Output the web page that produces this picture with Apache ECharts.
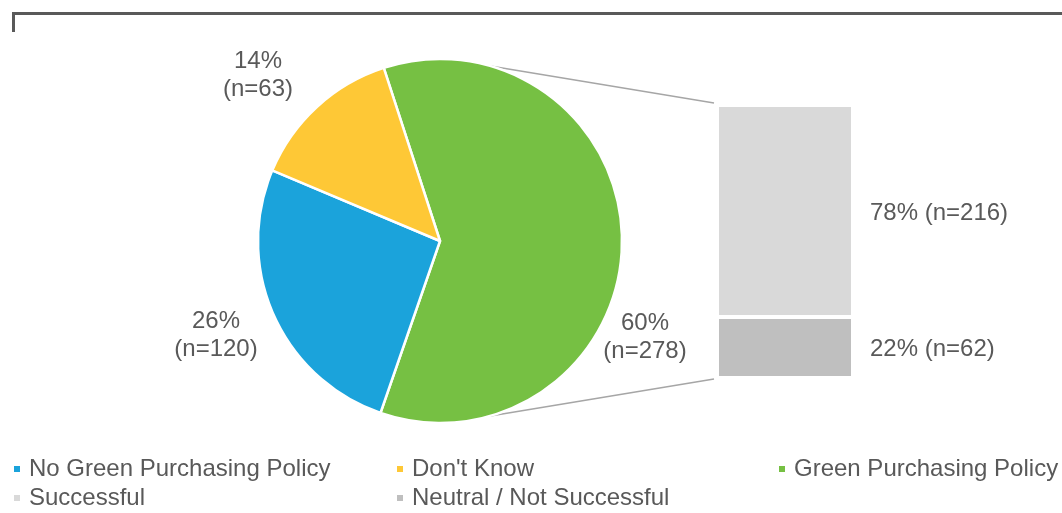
<!DOCTYPE html>
<html>
<head>
<meta charset="utf-8">
<script src="https://cdn.jsdelivr.net/npm/echarts@6/dist/echarts.min.js"></script>
<style>
  html, body { margin: 0; padding: 0; background: #fff; }
  #chart { width: 1062px; height: 513px; }
</style>
</head>
<body>
<div id="chart"></div>
<script>
// pie: policy status (counts)
const categories = ['Green Purchasing Policy', 'No Green Purchasing Policy', "Don't Know"];
const counts = [278, 120, 63];
const pieColors = ['#76C043', '#1BA3DB', '#FEC836'];

// bar: breakdown of the green slice
const subCategories = ['Neutral / Not Successful', 'Successful'];
const subCounts = [62, 216];
const barColors = ['#BFBFBF', '#D9D9D9'];

// legend order as shown, with [left, top] of each entry
const legendItems = ['No Green Purchasing Policy', "Don't Know", 'Green Purchasing Policy', 'Successful', 'Neutral / Not Successful'];
const legendPos = [[12, 457], [395, 457], [777, 457], [12, 486], [395, 486]];

// layout
const PIE_CX = 440, PIE_CY = 241, PIE_R = 182;
const BAR_LEFT = 717, BAR_TOP = 105, BAR_W = 136, BAR_H = 273;
const labelPos = [[645, 337], [216, 335], [258, 75]];
const textColor = '#595959';
const font = 'Liberation Sans, Arial, sans-serif';

const chart = echarts.init(document.getElementById('chart'));
const subTotal = subCounts.reduce((a, b) => a + b, 0);

// connector points on the pie edge (about 74 deg above/below horizontal)
const a = 74 * Math.PI / 180;
const upX = PIE_CX + PIE_R * Math.cos(a), upY = PIE_CY - PIE_R * Math.sin(a);
const dnX = PIE_CX + PIE_R * Math.cos(a), dnY = PIE_CY + PIE_R * Math.sin(a);

const option = {
  animation: false,
  legend: legendItems.map((name, i) => ({
    left: legendPos[i][0],
    top: legendPos[i][1],
    data: [name],
    itemWidth: 8,
    itemHeight: 8,
    icon: 'rect',
    selectedMode: false,
    padding: 0,
    textStyle: { fontSize: 24, color: textColor, fontFamily: font, padding: [0, 0, 0, 3] }
  })),
  grid: { left: BAR_LEFT, top: BAR_TOP, width: BAR_W, height: BAR_H },
  xAxis: { type: 'category', data: [''], show: false },
  yAxis: { type: 'value', min: 0, max: subTotal, show: false },
  graphic: [
    {
      type: 'polyline',
      shape: { points: [[13.5, 32], [13.5, 13.5], [1062, 13.5]] },
      style: { stroke: '#595959', lineWidth: 3, fill: null }
    },
    {
      type: 'line',
      shape: { x1: upX, y1: upY, x2: BAR_LEFT - 3, y2: BAR_TOP - 2 },
      style: { stroke: '#A6A6A6', lineWidth: 1.5 }
    },
    {
      type: 'line',
      shape: { x1: dnX, y1: dnY, x2: BAR_LEFT - 3, y2: BAR_TOP + BAR_H + 1 },
      style: { stroke: '#A6A6A6', lineWidth: 1.5 }
    }
  ],
  series: [
    {
      type: 'pie',
      center: [PIE_CX, PIE_CY],
      radius: PIE_R,
      startAngle: 108,
      clockwise: true,
      avoidLabelOverlap: false,
      itemStyle: { borderColor: '#fff', borderWidth: 2.5 },
      label: {
        show: true,
        position: 'outside',
        fontSize: 24,
        lineHeight: 28,
        color: textColor,
        fontFamily: font,
        align: 'center',
        formatter: p => Math.round(p.percent) + '%\n(n=' + p.value + ')'
      },
      labelLine: { show: false },
      labelLayout: p => ({
        x: labelPos[p.dataIndex][0],
        y: labelPos[p.dataIndex][1],
        align: 'center',
        verticalAlign: 'middle'
      }),
      emphasis: { disabled: true },
      data: categories.map((name, i) => ({
        name: name,
        value: counts[i],
        itemStyle: { color: pieColors[i] }
      }))
    }
  ].concat(subCategories.map((name, i) => ({
    type: 'bar',
    name: name,
    stack: 'green',
    barWidth: '100%',
    data: [subCounts[i]],
    itemStyle: { color: barColors[i], borderColor: '#fff', borderWidth: 2 },
    emphasis: { disabled: true },
    label: {
      show: true,
      position: 'right',
      distance: 17,
      offset: [0, 2],
      fontSize: 24,
      color: textColor,
      fontFamily: font,
      formatter: p => Math.round(p.value / subTotal * 100) + '% (n=' + p.value + ')'
    }
  })))
};

chart.setOption(option);
</script>
</body>
</html>
